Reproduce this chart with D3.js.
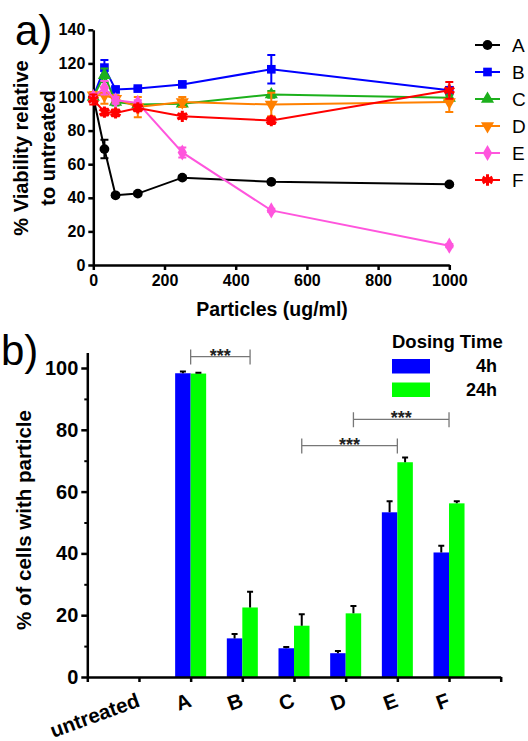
<!DOCTYPE html>
<html>
<head>
	<script src="https://cdn.jsdelivr.net/npm/d3@7/dist/d3.min.js"></script>
	<style>
		html, body { padding: 0; margin: 0; background: white; }
		text { font-family: "Liberation Sans", Arial, sans-serif; }
	</style>
</head>
<body>
	<script>
		var W = 528, H = 741;

		// ---- panel a data ----
		var conc = [0, 31.25, 62.5, 125, 250, 500, 1000];
		var seriesNames = ['A', 'B', 'C', 'D', 'E', 'F'];
		var seriesColors = ['#000000', '#0000ff', '#1cb01c', '#ff8000', '#ff55dd', '#ff0000'];
		var viabA = [100, 69, 41.5, 42.5, 52, 49.5, 48];
		var viabB = [100, 117.5, 104.5, 105, 107.5, 116.5, 104];
		var viabC = [100, 113, 97, 95.5, 96, 101.5, 99.5];
		var viabD = [101, 101, 99, 94, 97, 95.5, 97];
		var viabE = [100, 105.5, 98, 96.5, 67, 32.5, 11.5];
		var viabF = [98.5, 91, 90.5, 93.5, 88.5, 86, 104];
		var errA = [2, 5.5, 1, 1, 1, 1, 1];
		var errB = [2, 4.5, 1.5, 1, 1.5, 8.5, 2];
		var errC = [2, 4, 2, 1, 2, 2, 1.5];
		var errD = [2, 5, 2, 6, 3, 7, 6];
		var errE = [2, 4, 2, 1.5, 3, 1, 1];
		var errF = [3, 2, 2, 2, 1.5, 2, 5];
		var yTicksA = [0, 20, 40, 60, 80, 100, 120, 140];
		var xTicksA = [0, 200, 400, 600, 800, 1000];

		// ---- panel b data ----
		var categories = ['untreated', 'A', 'B', 'C', 'D', 'E', 'F'];
		var pct4h = [0, 98.3, 12.5, 9.3, 7.7, 53.3, 40.3];
		var pct24h = [0, 98.2, 22.5, 16.6, 20.6, 69.5, 56.2];
		var err4h = [0, 0.6, 1.4, 0.4, 0.7, 3.6, 2.2];
		var err24h = [0, 0.3, 5.1, 3.7, 2.4, 1.5, 0.7];
		var yTicksB = [0, 20, 40, 60, 80, 100];
		// significance brackets: [from category, use 24h bar?, to category, use 24h bar?, level]
		var brackets = [
			['A', 0, 'B', 1, 103.7],
			['D', 1, 'F', 0, 83.4],
			['C', 1, 'E', 0, 74.9]
		];

		var series = [viabA, viabB, viabC, viabD, viabE, viabF];
		var errs = [errA, errB, errC, errD, errE, errF];
		var symbols = [d3.symbolCircle, d3.symbolSquare, d3.symbolTriangle, d3.symbolTriangle, d3.symbolDiamond, d3.symbolAsterisk];

		var svg = d3.select('body').append('svg')
			.attr('width', W)
			.attr('height', H);

		// ===================== panel a =====================
		var xa = d3.scaleLinear().domain([0, 1000]).range([93.3, 449.3]);
		var ya = d3.scaleLinear().domain([0, 140]).range([265, 29.8]);

		var ga = svg.append('g');

		ga.append('g')
			.attr('transform', 'translate(0,' + ya(0) + ')')
			.call(d3.axisBottom(xa).tickValues(xTicksA).tickFormat(d3.format('d')).tickSize(5).tickSizeOuter(0).tickPadding(5))
			.call(function(g) {
				g.select('.domain').attr('stroke-width', 2.5);
				g.selectAll('.tick line').attr('stroke-width', 2.5);
				g.selectAll('text').attr('font-size', 16).attr('font-weight', 'bold').attr('fill', '#000');
			});

		ga.append('g')
			.attr('transform', 'translate(' + xa(0) + ',0)')
			.call(d3.axisLeft(ya).tickValues(yTicksA).tickSize(5).tickSizeOuter(0).tickPadding(3))
			.call(function(g) {
				g.select('.domain').attr('stroke-width', 2.5);
				g.selectAll('.tick line').attr('stroke-width', 2.5);
				g.selectAll('text').attr('font-size', 16).attr('font-weight', 'bold').attr('fill', '#000');
			});

		var line = d3.line().x(function(d, i) { return xa(conc[i]); }).y(function(d) { return ya(d); });

		series.forEach(function(vals, s) {
			var col = seriesColors[s];
			var g = ga.append('g');
			g.append('path')
				.attr('d', line(vals))
				.attr('fill', 'none')
				.attr('stroke', col)
				.attr('stroke-width', 2);
			vals.forEach(function(v, i) {
				var e = errs[s][i];
				var cx = xa(conc[i]);
				g.append('path')
					.attr('d', 'M' + cx + ',' + ya(v - e) + 'V' + ya(v + e) +
						'M' + (cx - 4) + ',' + ya(v - e) + 'H' + (cx + 4) +
						'M' + (cx - 4) + ',' + ya(v + e) + 'H' + (cx + 4))
					.attr('stroke', col)
					.attr('stroke-width', 2)
					.attr('fill', 'none');
			});
			var sym = d3.symbol().type(symbols[s]).size(s == 5 ? 90 : 75);
			g.selectAll('.pt')
				.data(vals)
				.enter().append('path')
				.attr('transform', function(d, i) {
					return 'translate(' + xa(conc[i]) + ',' + ya(d) + ')' + (s == 3 ? ' rotate(180)' : '');
				})
				.attr('d', sym)
				.attr('fill', col)
				.attr('stroke', col)
				.attr('stroke-width', s == 5 ? 3 : 0);
		});

		// legend a
		var lg = ga.append('g');
		seriesNames.forEach(function(n, s) {
			var y = 45 + s * 27;
			var col = seriesColors[s];
			lg.append('line').attr('x1', 475).attr('x2', 500).attr('y1', y).attr('y2', y)
				.attr('stroke', col).attr('stroke-width', 2);
			lg.append('path')
				.attr('transform', 'translate(487.5,' + y + ')' + (s == 3 ? ' rotate(180)' : ''))
				.attr('d', d3.symbol().type(symbols[s]).size(s == 5 ? 90 : 75))
				.attr('fill', col).attr('stroke', col).attr('stroke-width', s == 5 ? 3 : 0);
			lg.append('text').attr('x', 512).attr('y', y + 7).attr('font-size', 19).text(n);
		});

		ga.append('text').attr('x', 15).attr('y', 45).attr('font-size', 42).text('a)');

		var yta = ga.append('text')
			.attr('transform', 'translate(28,148) rotate(-90)')
			.attr('text-anchor', 'middle')
			.attr('font-size', 20)
			.attr('font-weight', 'bold');
		yta.append('tspan').attr('x', 0).attr('dy', 0).text('% Viability relative');
		yta.append('tspan').attr('x', 0).attr('dy', 27).text('to untreated');

		ga.append('text').attr('x', 272).attr('y', 316).attr('text-anchor', 'middle')
			.attr('font-size', 19.5).attr('font-weight', 'bold').text('Particles (ug/ml)');

		// ===================== panel b =====================
		var xb = d3.scaleLinear().domain([0, 8]).range([87.3, 500.7]);
		var yb = d3.scaleLinear().domain([0, 100]).range([677, 368]);
		var bw = 15.5;

		var gb = svg.append('g');

		categories.forEach(function(c, i) {
			var cx = xb(i + 1);
			[[pct4h, err4h, '#0000ff', -1], [pct24h, err24h, '#00ff00', 0]].forEach(function(d) {
				var v = d[0][i], e = d[1][i];
				if (v <= 0) return;
				var x0 = cx + d[3] * bw;
				gb.append('rect')
					.attr('x', x0).attr('y', yb(v))
					.attr('width', bw).attr('height', yb(0) - yb(v))
					.attr('fill', d[2]);
				var mx = x0 + bw / 2;
				gb.append('path')
					.attr('d', 'M' + mx + ',' + yb(v) + 'V' + yb(v + e) + 'M' + (mx - 3) + ',' + yb(v + e) + 'H' + (mx + 3))
					.attr('stroke', '#000').attr('stroke-width', 2).attr('fill', 'none');
			});
		});

		gb.append('g')
			.attr('transform', 'translate(0,' + yb(0) + ')')
			.call(d3.axisBottom(xb).ticks(8).tickFormat('').tickSize(5).tickSizeOuter(0))
			.call(function(g) {
				g.select('.domain').attr('stroke-width', 2.5);
				g.selectAll('.tick line').attr('stroke-width', 2.5);
			});

		var ybAxis = d3.scaleLinear().domain([0, 105]).range([yb(0), yb(105)]);
		gb.append('g')
			.attr('transform', 'translate(' + xb(0) + ',0)')
			.call(d3.axisLeft(ybAxis).tickValues(d3.range(10, 100, 20)).tickFormat('').tickSize(3).tickSizeOuter(0))
			.call(function(g) {
				g.select('.domain').attr('stroke-width', 2.5);
				g.selectAll('.tick line').attr('stroke-width', 2);
			});
		gb.append('g')
			.attr('transform', 'translate(' + xb(0) + ',0)')
			.call(d3.axisLeft(ybAxis).tickValues(yTicksB).tickSize(6).tickSizeOuter(0).tickPadding(3))
			.call(function(g) {
				g.select('.domain').remove();
				g.selectAll('.tick line').attr('stroke-width', 2.5);
				g.selectAll('text').attr('font-size', 20).attr('font-weight', 'bold').attr('fill', '#000');
			});

		categories.forEach(function(c, i) {
			gb.append('text')
				.attr('transform', 'translate(' + (xb(i + 1) + 2) + ',706) rotate(-20)')
				.attr('text-anchor', 'end')
				.attr('font-size', 20.5)
				.attr('font-weight', 'bold')
				.text(c);
		});

		// significance brackets
		brackets.forEach(function(b) {
			var x1 = xb(categories.indexOf(b[0]) + 1) + b[1] * bw / 2;
			var x2 = xb(categories.indexOf(b[2]) + 1) + b[3] * bw / 2;
			var y = yb(b[4]);
			gb.append('path')
				.attr('d', 'M' + x1 + ',' + (y - 7) + 'V' + (y + 8) + 'M' + x1 + ',' + y + 'H' + x2 + 'M' + x2 + ',' + (y - 7) + 'V' + (y + 8))
				.attr('stroke', '#777').attr('stroke-width', 1.3).attr('fill', 'none');
			gb.append('text').attr('x', (x1 + x2) / 2).attr('y', y + 5)
				.attr('text-anchor', 'middle').attr('font-size', 18).attr('font-weight', 'bold')
				.attr('fill', '#222').text('***');
		});

		// legend b
		gb.append('text').attr('x', 392).attr('y', 348).attr('font-size', 18.5).attr('font-weight', 'bold').text('Dosing Time');
		gb.append('rect').attr('x', 392).attr('y', 359).attr('width', 38).attr('height', 14.5).attr('fill', '#0000ff');
		gb.append('rect').attr('x', 392).attr('y', 382.5).attr('width', 38).attr('height', 14.5).attr('fill', '#00ff00');
		gb.append('text').attr('x', 497).attr('y', 372).attr('text-anchor', 'end').attr('font-size', 18).attr('font-weight', 'bold').text('4h');
		gb.append('text').attr('x', 497).attr('y', 395.5).attr('text-anchor', 'end').attr('font-size', 18).attr('font-weight', 'bold').text('24h');

		gb.append('text').attr('x', 1).attr('y', 365).attr('font-size', 42).text('b)');

		gb.append('text')
			.attr('transform', 'translate(31,520) rotate(-90)')
			.attr('text-anchor', 'middle')
			.attr('font-size', 20.5)
			.attr('font-weight', 'bold')
			.text('% of cells with particle');
	</script>
</body>
</html>
